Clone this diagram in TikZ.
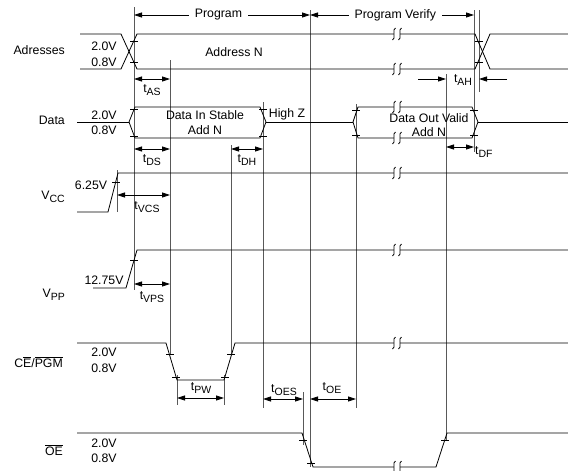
\documentclass[tikz,border=0pt]{standalone}
\usepackage{fontspec}
\setmainfont{Liberation Sans}
\usetikzlibrary{arrows.meta}

\newcommand{\subtxt}[1]{\raisebox{-3.5pt}{\fontsize{10.5}{12}\selectfont #1}}
\newcommand{\ovl}[1]{$\overline{\hbox{#1}}$}

\tikzset{
  sig/.style={line width=0.8pt},
  guide/.style={line width=0.8pt, black!65},
  dim/.style={line width=0.8pt, {Triangle[length=8pt,width=5pt]}-{Triangle[length=8pt,width=5pt]}},
  onearrow/.style={line width=0.8pt, -{Triangle[length=8pt,width=5pt]}},
  lbl/.style={inner sep=0pt, font=\fontsize{12.3}{14}\selectfont},
  brk/.pic={
    \fill[white] (-3,-2) rectangle (3,2);
    \foreach \d in {-3,3}
      \draw[sig] (\d+1.5,-6) .. controls (\d-0.5,-6) and (\d,-3) .. (\d,0)
                 .. controls (\d,3) and (\d+0.5,6) .. (\d-1.5,6);
  }
}

\begin{document}
\begin{tikzpicture}[x=1pt, y=-1pt]
  \useasboundingbox (0,0) rectangle (568,471);

  % reference lines
  \draw[guide] (134,7)   -- (134,290);
  \draw[guide] (170,60)  -- (170,354);
  \draw[guide] (231,145) -- (231,354);
  \draw[guide] (263,102) -- (263,408);
  \draw[guide] (310,10)  -- (310,467);
  \draw[guide] (356,104) -- (356,408);
  \draw[guide] (446,74)  -- (446,440);
  \draw[guide] (474,10)  -- (474,152);
  \draw[guide] (479,10)  -- (479,92);
  \draw[guide] (117,170) -- (117,212);
  \draw[guide] (177,375) -- (177,405);
  \draw[guide] (224,375) -- (224,405);
  \draw[guide] (303,392) -- (303,445);

  % signal labels
  \node[lbl, anchor=east] (adr)  at (65,50)  {Adresses};
  \node[lbl, anchor=east] (dat)  at (65,120) {Data};
  \node[lbl, anchor=east] (vcc)  at (65,197) {V\subtxt{CC}};
  \node[lbl, anchor=east] (vpp)  at (65,295) {V\subtxt{PP}};
  \node[lbl, anchor=east] (ce)   at (63,362) {C\ovl{E}/\ovl{PGM}};
  \node[lbl, anchor=east] (oe)   at (63,450) {\ovl{OE}};

  % levels
  \node[lbl] (adrH) at (104,46)  {2.0V};
  \node[lbl] (adrL) at (104,62)  {0.8V};
  \node[lbl] (datH) at (104,115) {2.0V};
  \node[lbl] (datL) at (104,130) {0.8V};
  \node[lbl] (vccL) at (91,185)  {6.25V};
  \node[lbl] (vppL) at (104,280) {12.75V};
  \node[lbl] (ceH)  at (104,352) {2.0V};
  \node[lbl] (ceL)  at (104,368) {0.8V};
  \node[lbl] (oeH)  at (104,443) {2.0V};
  \node[lbl] (oeL)  at (104,458) {0.8V};

  % addresses
  \draw[sig] (80,34) -- (121,34) -- (137,69) -- (475,69) -- (490,34) -- (568,34);
  \draw[sig] (80,69) -- (121,69) -- (137,34) -- (475,34) -- (490,69) -- (568,69);
  \node[lbl] (adrN) at (234,52) {Address N};

  % data
  \draw[sig] (77,122) -- (129,122);
  \draw[sig] (129,122) -- (135,107) -- (260,107) -- (266,122)
             -- (260,138) -- (135,138) -- cycle;
  \draw[sig] (266,122) -- (353,122);
  \draw[sig] (353,122) -- (358,107) -- (472,107) -- (478,122)
             -- (472,138) -- (358,138) -- cycle;
  \draw[sig] (478,122) -- (568,122);
  \node[lbl] (dIn1)  at (205,115) {Data In Stable};
  \node[lbl] (dIn2)  at (205,130) {Add N};
  \node[lbl] (highZ) at (287,114) {High Z};
  \node[lbl] (dOut1) at (429,118) {Data Out Valid};
  \node[lbl] (dOut2) at (429,132) {Add N};

  % supplies
  \draw[sig] (77,212) -- (108,212) -- (118,173) -- (568,173);
  \draw[sig] (93,288) -- (126,288) -- (137,250) -- (568,250);

  % CE/PGM and OE
  \draw[sig] (77,343) -- (166,343) -- (177,380) -- (224,380) -- (235,343) -- (568,343);
  \draw[sig] (77,433) -- (302,433) -- (313,467) -- (436,467) -- (447,433) -- (568,433);

  % threshold ticks
  \foreach \x/\y in {134/41, 134/62, 479/41, 479/62, 134/109, 134/136,
                     263/109, 263/136, 356/110, 356/135, 474/110, 474/135,
                     116/182, 134/260, 170/354, 176/377, 225/377, 231/354,
                     303/440, 311/463, 445/440}
    \draw[sig] (\x-4,\y) -- (\x+4,\y);

  % breaks
  \foreach \y in {34,69,107,138,173,250,343,467}
    \pic at (397,\y) {brk};

  % phases
  \draw[dim] (134,15) -- node[lbl, fill=white, inner xsep=6pt, pos=0.48] (prog) {Program} (310,15);
  \draw[dim] (310,15) -- node[lbl, fill=white, inner xsep=6pt, pos=0.52] (verf) {Program Verify} (474,15);

  % timings
  \draw[dim] (134,79)  -- (170,79);
  \node[lbl] (tAS)  at (152,90)  {t\subtxt{AS}};
  \draw[dim] (134,149) -- (170,149);
  \node[lbl] (tDS)  at (152,160) {t\subtxt{DS}};
  \draw[dim] (231,149) -- (263,149);
  \node[lbl] (tDH)  at (247,160) {t\subtxt{DH}};
  \draw[dim] (117,195) -- (170,195);
  \node[lbl] (tVCS) at (147,207) {t\subtxt{VCS}};
  \draw[dim] (134,284) -- (170,284);
  \node[lbl] (tVPS) at (152,297) {t\subtxt{VPS}};
  \draw[dim] (177,398) -- (224,398);
  \node[lbl] (tPW)  at (201,388) {t\subtxt{PW}};
  \draw[dim] (263,399) -- (303,399);
  \node[lbl] (tOES) at (284,390) {t\subtxt{OES}};
  \draw[dim] (310,399) -- (356,399);
  \node[lbl] (tOE)  at (332,388) {t\subtxt{OE}};
  \draw[onearrow] (418,79) -- (446,79);
  \draw[onearrow] (507,79) -- (479,79);
  \node[lbl] (tAH)  at (463,80)  {t\subtxt{AH}};
  \draw[dim] (446,147) -- (474,147);
  \node[lbl, anchor=west] (tDF) at (475,152) {t\subtxt{DF}};
\end{tikzpicture}
\end{document}
